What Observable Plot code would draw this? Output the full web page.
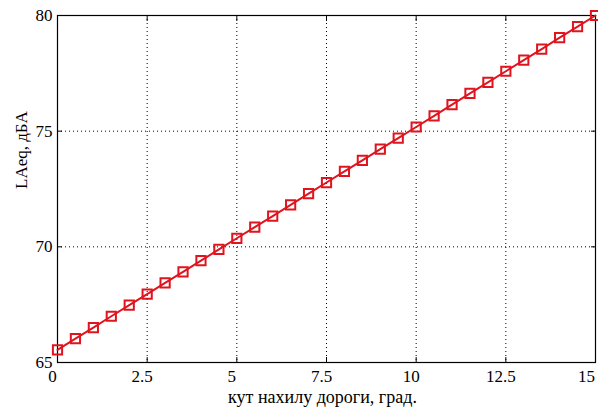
<!DOCTYPE html>
<html>
<head>
<meta charset="utf-8">
<script src="https://cdn.jsdelivr.net/npm/d3@7"></script>
<script src="https://cdn.jsdelivr.net/npm/@observablehq/plot@0.6"></script>
<style>
  html, body { margin: 0; padding: 0; background: #fff; }
</style>
</head>
<body>
<div id="chart"></div>
<script>
const angles = [0, 0.5, 1, 1.5, 2, 2.5, 3, 3.5, 4, 4.5, 5, 5.5, 6, 6.5, 7, 7.5, 8, 8.5, 9, 9.5, 10, 10.5, 11, 11.5, 12, 12.5, 13, 13.5, 14, 14.5, 15];
const laeq = [65.55, 66.03, 66.51, 67.0, 67.48, 67.96, 68.44, 68.92, 69.4, 69.89, 70.37, 70.85, 71.33, 71.81, 72.3, 72.78, 73.26, 73.74, 74.22, 74.7, 75.18, 75.66, 76.15, 76.63, 77.11, 77.59, 78.07, 78.55, 79.04, 79.52, 80.0];
const xTicks = [0, 2.5, 5, 7.5, 10, 12.5, 15];
const yTicks = [65, 70, 75, 80];
const xLabel = "кут нахилу дороги, град.";
const yLabel = "LAeq, дБА";

const data = angles.map((a, i) => ({a, v: laeq[i]}));
const red = "#e0141e";

const chart = Plot.plot({
  width: 598,
  height: 412,
  marginLeft: 57,
  marginRight: 3,
  marginTop: 15,
  marginBottom: 50,
  style: {fontFamily: "Liberation Serif", fontSize: "17px", color: "#000", background: "#fff"},
  x: {domain: [0, 15]},
  y: {domain: [65, 80]},
  marks: [
    Plot.ruleX(xTicks.slice(1, -1), {stroke: "#000", strokeDasharray: "1,3", strokeWidth: 1}),
    Plot.ruleY(yTicks.slice(1, -1), {stroke: "#000", strokeDasharray: "1,3", strokeWidth: 1}),
    Plot.axisX({ticks: xTicks, tickSize: -5, tickFormat: () => "", label: null}),
    Plot.axisX({ticks: xTicks.slice(0, -1), tickSize: 0, tickPadding: 7, dx: -5, tickFormat: d => String(d), fontSize: 17, label: null}),
    Plot.axisX({ticks: xTicks.slice(-1), tickSize: 0, tickPadding: 7, dx: -9, tickFormat: d => String(d), fontSize: 17, label: null}),
    Plot.axisX({anchor: "top", ticks: xTicks, tickSize: -5, tickFormat: () => "", label: null}),
    Plot.axisY({ticks: yTicks, tickSize: -5, tickPadding: 10, tickFormat: d => String(d), fontSize: 17, label: null}),
    Plot.axisY({anchor: "right", ticks: yTicks, tickSize: -5, tickFormat: () => "", label: null}),
    Plot.frame({stroke: "#000", strokeWidth: 1.2}),
    Plot.line(data, {x: "a", y: "v", stroke: red, strokeWidth: 2}),
    Plot.dot(data, {x: "a", y: "v", symbol: "square", r: 5.2, stroke: red, strokeWidth: 2, fill: "none"}),
    Plot.text([xLabel], {frameAnchor: "bottom", dx: -4, dy: 40, fontSize: 18, text: d => d}),
    Plot.text([yLabel], {frameAnchor: "left", dx: -36, rotate: -90, fontSize: 17, text: d => d})
  ]
});
document.getElementById("chart").appendChild(chart);
</script>
</body>
</html>
